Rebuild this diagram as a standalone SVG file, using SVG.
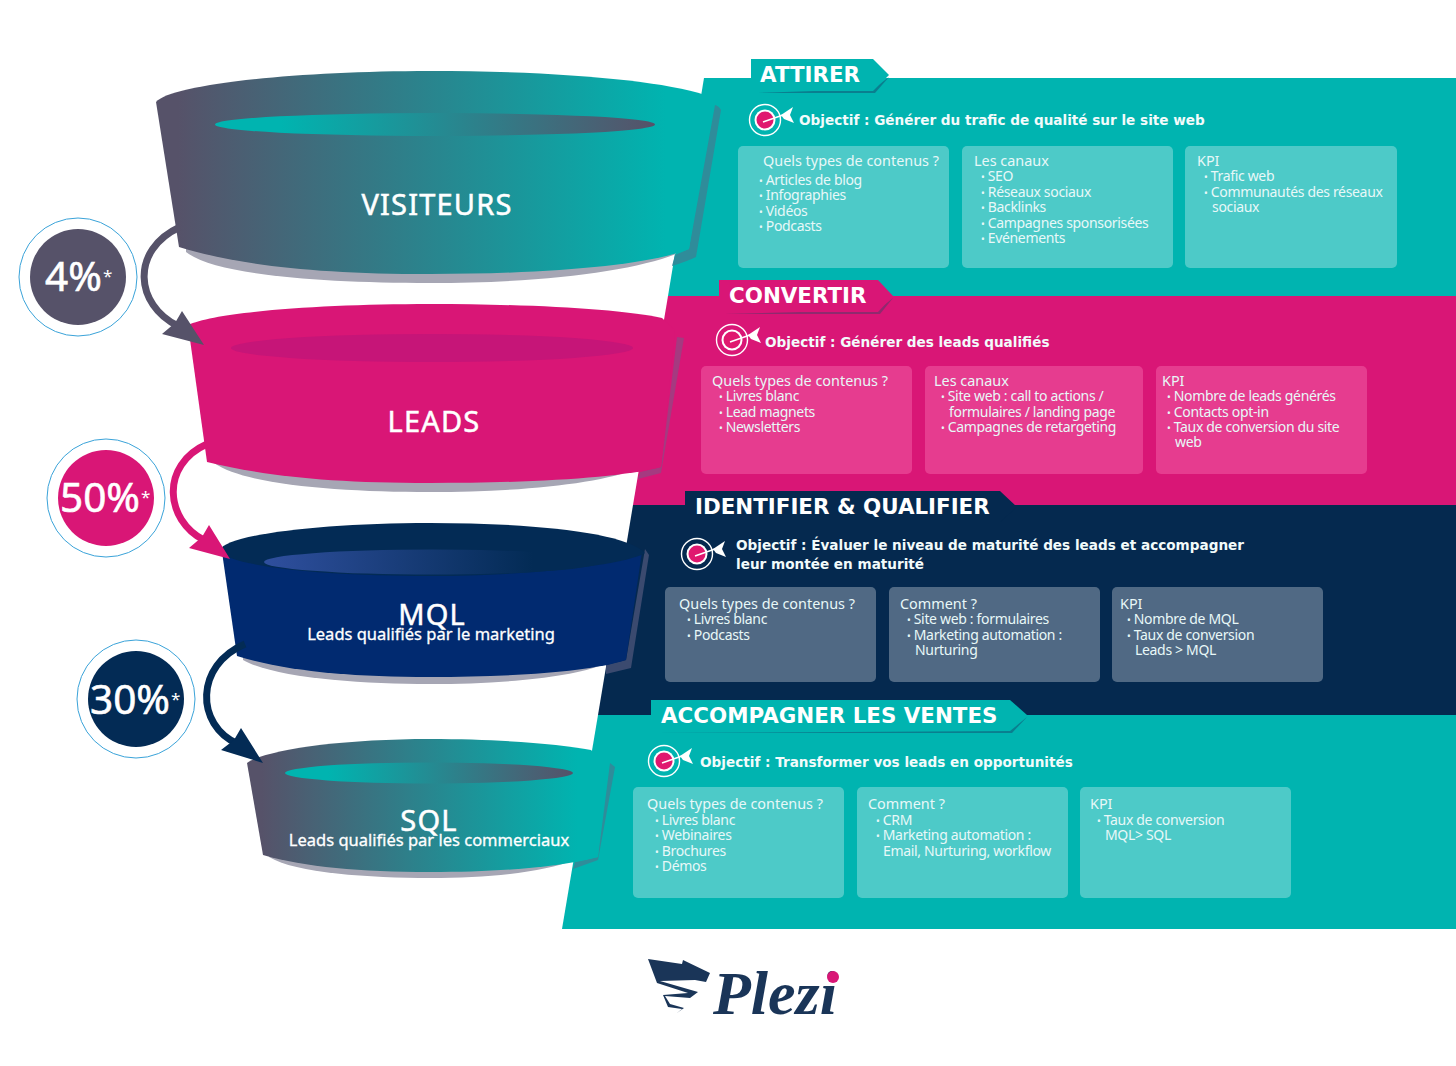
<svg xmlns="http://www.w3.org/2000/svg" width="1456" height="1066" viewBox="0 0 1456 1066">
<style>
text{font-family:"Noto Sans","DejaVu Sans",sans-serif;fill:#fff}
.b{font-size:14.4px;fill:#e8f8f8}
.l{font-size:14px;letter-spacing:-.33px;fill:#e8f8f8}
.d{font-size:10px}
.h{font-family:"DejaVu Sans",sans-serif;font-weight:700;font-size:21.4px}
.o{font-family:"DejaVu Sans",sans-serif;font-weight:700;font-size:13.6px;fill:#f2fbfb}
.f{font-size:29px;text-anchor:middle;letter-spacing:1.2px;stroke:#fff;stroke-width:.5px}
.s{font-size:16.5px;text-anchor:middle;stroke:#fff;stroke-width:.3px}
.p{font-size:40.5px;stroke:#fff;stroke-width:.6px}
.st{font-size:17px}
.box{fill:#fff;fill-opacity:.3}
.pbox{fill:#e63c8f}
.sh{fill:#a6a6b4}
.ring{fill:#fff;stroke:#3aa3d9;stroke-width:1}
.arr{fill:none;stroke-width:7}
</style>
<defs>
<linearGradient id="gv" x1="0" x2="1" y1="0" y2="0"><stop offset="0.04" stop-color="#565269"/><stop offset="0.92" stop-color="#00b4b0"/></linearGradient>
<linearGradient id="gi" x1="0" x2="1" y1="0" y2="0"><stop offset="0.15" stop-color="#00b4b0"/><stop offset="1" stop-color="#565269"/></linearGradient>
<linearGradient id="gm" x1="0" x2="1" y1="0" y2="0"><stop offset="0" stop-color="#2f4f9e"/><stop offset="0.8" stop-color="#032b55"/></linearGradient>
<g id="target">
<circle r="15.500" fill="none" stroke="#fff" stroke-width="1.4"/>
<circle r="10.500" fill="#fff"/>
<circle r="8.500" fill="#e0186f"/>
<path d="M-2 2L18 -5" stroke="#fff" stroke-width="1.5" fill="none"/>
<path d="M16 -5L28 -13L25 -5L29 3L19 -1Z" fill="#fff"/>
</g>
</defs>

<g id="panels">
<polygon points="704,78 1456,78 1456,296 668,296" fill="#00b4b0"/>
<polygon points="668,296 1456,296 1456,505 633,505" fill="#d91676"/>
<polygon points="633,505 1456,505 1456,715 598,715" fill="#05294f"/>
<polygon points="598,715 1456,715 1456,929 562,929" fill="#00b4b0"/>
</g>

<g id="funnel-visiteurs">
<path class="sh" d="M186 252C215 275 320 283 430 283C540 283 630 272 676 254L676 240L186 240Z"/>
<path d="M715 105Q719 106 721 110L696 257Q688 261 672 266L675 255L689 249Z" fill="#2f8c9a"/>
<path d="M156 102C170 85 290 71 430 71C550 71 660 80 705 95L710 110L689 249C650 265 550 274 430 274C310 274 235 264 179 247Z" fill="url(#gv)"/>
<ellipse cx="435" cy="124.500" rx="220" ry="11.500" fill="url(#gi)"/>
<text class="f" x="437" y="215">VISITEURS</text>
</g>
<g id="funnel-leads">
<path class="sh" d="M214 463C245 485 340 492 430 492C520 492 600 484 639 468L639 455L214 455Z"/>
<path d="M677 337L684 338L661 473L638 479L640 472L661 467Z" fill="#a53a80"/>
<path d="M188 325C215 312 320 304 430 304C530 304 620 309 662 318L675 330L661 467C620 478 530 483 430 483C330 483 265 476 207 462Z" fill="#d91676"/>
<ellipse cx="432" cy="348" rx="201" ry="14" fill="#c61578"/>
<text class="f" x="434" y="432">LEADS</text>
</g>
<g id="funnel-mql">
<path class="sh" d="M243 660C275 678 360 684 430 684C500 684 570 678 605 664L605 650L243 650Z"/>
<path d="M645 549L649 555L631 668L606 674L606 665L626 660Z" fill="#3b4a6f"/>
<path d="M222 552L642 552L626 660C590 672 510 677 430 677C350 677 285 671 237 656Z" fill="#012a70"/>
<path d="M220 550C225 535 320 523 430 523C530 523 625 532 645 553C625 565 530 576 430 576C320 576 225 566 220 550Z" fill="#032b55"/>
<ellipse cx="432" cy="562" rx="168" ry="12.500" fill="url(#gm)"/>
<text class="f" x="432" y="625">MQL</text>
<text class="s" x="431" y="640">Leads qualifiés par le marketing</text>
</g>
<g id="funnel-sql">
<path class="sh" d="M269 857C295 873 370 878 430 878C490 878 545 872 574 860L574 848L269 848Z"/>
<path d="M610 763L615 767L598 860L573 869L575 862L598 857Z" fill="#2f8c9a"/>
<path d="M247 763C265 750 340 739 430 739C500 739 560 744 591 750L606 765L598 857C560 867 500 872 430 872C360 872 305 867 263 855Z" fill="url(#gv)"/>
<ellipse cx="429" cy="773" rx="144" ry="10.500" fill="url(#gi)"/>
<text class="f" x="429" y="831">SQL</text>
<text class="s" x="429" y="846">Leads qualifiés par les commerciaux</text>
</g>

<g id="connectors">
<path class="arr" stroke="#565269" d="M180 227C130 250 135 305 178 326"/>
<polygon points="204,345 182,311 175,323 162,334" fill="#565269"/>
<path class="arr" stroke="#d91676" d="M207 444C160 465 165 520 204 540"/>
<polygon points="230,559 209,525 202,537 189,548" fill="#d91676"/>
<path class="arr" stroke="#032b55" d="M245 644C195 665 195 725 238 744"/>
<polygon points="263,763 241,728 234,740 221,750" fill="#032b55"/>
</g>

<g id="badge-4">
<circle class="ring" cx="78" cy="277" r="59"/><circle cx="78" cy="277" r="48" fill="#565269"/>
<text class="p" x="45" y="291">4%</text><text class="st" x="103" y="282">*</text>
</g>
<g id="badge-50">
<circle class="ring" cx="106" cy="498" r="59"/><circle cx="106" cy="498" r="48" fill="#d91676"/>
<text class="p" x="60" y="512">50%</text><text class="st" x="141" y="503">*</text>
</g>
<g id="badge-30">
<circle class="ring" cx="136" cy="699" r="59"/><circle cx="136" cy="699" r="48" fill="#032b55"/>
<text class="p" x="90" y="714">30%</text><text class="st" x="171" y="705">*</text>
</g>

<g id="attirer">
<polygon points="758,93 875,93 889,77 873,89" fill="#0a7f8f"/>
<polygon points="751,59 873,59 889,75 873,91 751,91" fill="#00b4b0"/>
<text class="h" x="760" y="82">ATTIRER</text>
<use href="#target" x="765" y="120"/>
<text class="o" x="799" y="125">Objectif : Générer du trafic de qualité sur le site web</text>
<rect class="box" x="738" y="146" width="211" height="122" rx="5"/>
<rect class="box" x="962" y="146" width="211" height="122" rx="5"/>
<rect class="box" x="1185" y="146" width="212" height="122" rx="5"/>
<text class="b" x="763" y="166">Quels types de contenus ?</text>
<text class="l" x="759" y="185"><tspan class="d">•</tspan> Articles de blog</text>
<text class="l" x="759" y="200"><tspan class="d">•</tspan> Infographies</text>
<text class="l" x="759" y="216"><tspan class="d">•</tspan> Vidéos</text>
<text class="l" x="759" y="231"><tspan class="d">•</tspan> Podcasts</text>
<text class="b" x="974" y="166">Les canaux</text>
<text class="l" x="981" y="181"><tspan class="d">•</tspan> SEO</text>
<text class="l" x="981" y="197"><tspan class="d">•</tspan> Réseaux sociaux</text>
<text class="l" x="981" y="212"><tspan class="d">•</tspan> Backlinks</text>
<text class="l" x="981" y="228"><tspan class="d">•</tspan> Campagnes sponsorisées</text>
<text class="l" x="981" y="243"><tspan class="d">•</tspan> Evénements</text>
<text class="b" x="1197" y="166">KPI</text>
<text class="l" x="1204" y="181"><tspan class="d">•</tspan> Trafic web</text>
<text class="l" x="1204" y="197"><tspan class="d">•</tspan> Communautés des réseaux</text>
<text class="l" x="1212" y="212">sociaux</text>
</g>

<g id="convertir">
<polygon points="725,314 880,314 893,298 878,310" fill="#8f2a6e"/>
<polygon points="719,280 878,280 893,296 878,312 719,312" fill="#d91676"/>
<text class="h" x="729" y="303">CONVERTIR</text>
<use href="#target" x="732" y="340"/>
<text class="o" x="765" y="347">Objectif : Générer des leads qualifiés</text>
<rect class="pbox" x="701" y="366" width="211" height="108" rx="5"/>
<rect class="pbox" x="925" y="366" width="218" height="108" rx="5"/>
<rect class="pbox" x="1156" y="366" width="211" height="108" rx="5"/>
<text class="b" x="712" y="386">Quels types de contenus ?</text>
<text class="l" x="719" y="401"><tspan class="d">•</tspan> Livres blanc</text>
<text class="l" x="719" y="417"><tspan class="d">•</tspan> Lead magnets</text>
<text class="l" x="719" y="432"><tspan class="d">•</tspan> Newsletters</text>
<text class="b" x="934" y="386">Les canaux</text>
<text class="l" x="941" y="401"><tspan class="d">•</tspan> Site web : call to actions /</text>
<text class="l" x="949" y="417">formulaires / landing page</text>
<text class="l" x="941" y="432"><tspan class="d">•</tspan> Campagnes de retargeting</text>
<text class="b" x="1162" y="386">KPI</text>
<text class="l" x="1167" y="401"><tspan class="d">•</tspan> Nombre de leads générés</text>
<text class="l" x="1167" y="417"><tspan class="d">•</tspan> Contacts opt-in</text>
<text class="l" x="1167" y="432"><tspan class="d">•</tspan> Taux de conversion du site</text>
<text class="l" x="1175" y="447">web</text>
</g>

<g id="identifier">
<polygon points="685,491 1000,491 1017,507 1000,522 685,522" fill="#05294f"/>
<text class="h" x="695" y="514">IDENTIFIER &amp; QUALIFIER</text>
<use href="#target" x="697" y="554"/>
<text class="o" x="736" y="550">Objectif : Évaluer le niveau de maturité des leads et accompagner</text>
<text class="o" x="736" y="569">leur montée en maturité</text>
<rect class="box" x="665" y="587" width="211" height="95" rx="5"/>
<rect class="box" x="889" y="587" width="211" height="95" rx="5"/>
<rect class="box" x="1112" y="587" width="211" height="95" rx="5"/>
<text class="b" x="679" y="609">Quels types de contenus ?</text>
<text class="l" x="687" y="624"><tspan class="d">•</tspan> Livres blanc</text>
<text class="l" x="687" y="640"><tspan class="d">•</tspan> Podcasts</text>
<text class="b" x="900" y="609">Comment ?</text>
<text class="l" x="907" y="624"><tspan class="d">•</tspan> Site web : formulaires</text>
<text class="l" x="907" y="640"><tspan class="d">•</tspan> Marketing automation :</text>
<text class="l" x="915" y="655">Nurturing</text>
<text class="b" x="1120" y="609">KPI</text>
<text class="l" x="1127" y="624"><tspan class="d">•</tspan> Nombre de MQL</text>
<text class="l" x="1127" y="640"><tspan class="d">•</tspan> Taux de conversion</text>
<text class="l" x="1135" y="655">Leads &gt; MQL</text>
</g>

<g id="accompagner">
<polygon points="651,700 1010,700 1027,715 1010,731 651,731" fill="#00b4b0"/>
<polygon points="656,733 1012,733 1027,717 1010,731" fill="#0a7f8f"/>
<text class="h" x="661" y="723">ACCOMPAGNER LES VENTES</text>
<use href="#target" x="664" y="761"/>
<text class="o" x="700" y="767">Objectif : Transformer vos leads en opportunités</text>
<rect class="box" x="633" y="787" width="211" height="111" rx="5"/>
<rect class="box" x="857" y="787" width="211" height="111" rx="5"/>
<rect class="box" x="1080" y="787" width="211" height="111" rx="5"/>
<text class="b" x="647" y="809">Quels types de contenus ?</text>
<text class="l" x="655" y="825"><tspan class="d">•</tspan> Livres blanc</text>
<text class="l" x="655" y="840"><tspan class="d">•</tspan> Webinaires</text>
<text class="l" x="655" y="856"><tspan class="d">•</tspan> Brochures</text>
<text class="l" x="655" y="871"><tspan class="d">•</tspan> Démos</text>
<text class="b" x="868" y="809">Comment ?</text>
<text class="l" x="876" y="825"><tspan class="d">•</tspan> CRM</text>
<text class="l" x="876" y="840"><tspan class="d">•</tspan> Marketing automation :</text>
<text class="l" x="883" y="856">Email, Nurturing, workflow</text>
<text class="b" x="1090" y="809">KPI</text>
<text class="l" x="1097" y="825"><tspan class="d">•</tspan> Taux de conversion</text>
<text class="l" x="1105" y="840">MQL&gt; SQL</text>
</g>

<g id="logo">
<path d="M648 959L682 964L683 960L710 973L706 982L695 980L660 981L698 992L690 998L665 996L670 1004L684 1008L677 1013L682 1009L668 1007L663 995L688 993L657 983Z" fill="#1a3558"/>
<text x="713" y="1014" style="font-family:'Liberation Serif',serif;font-style:italic;font-weight:700;font-size:62px;fill:#1a3558">Plezi</text>
<circle cx="833" cy="977" r="6" fill="#d91676"/>
</g>
</svg>
